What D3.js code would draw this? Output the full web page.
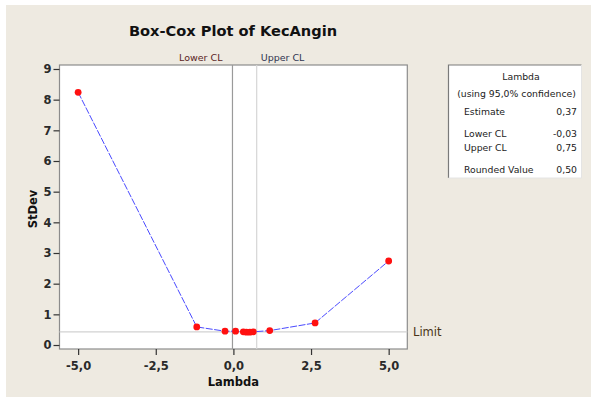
<!DOCTYPE html>
<html>
<head>
<meta charset="utf-8">
<script src="https://cdn.jsdelivr.net/npm/d3@7"></script>
<style>
  html, body { margin: 0; padding: 0; background: #ffffff; }
  svg { display: block; }
  text { font-family: "DejaVu Sans", sans-serif; }
</style>
</head>
<body>
<script>
// ---- Data ----
const lambdas = [-5, -1.18, -0.27, 0.07, 0.32, 0.42, 0.53, 0.64, 1.17, 2.63, 5];
const stdevs  = [8.24, 0.59, 0.45, 0.45, 0.43, 0.42, 0.42, 0.43, 0.47, 0.72, 2.74];
const xTicks = [-5, -2.5, 0, 2.5, 5];
const yTicks = [0, 1, 2, 3, 4, 5, 6, 7, 8, 9];
const lowerCL = -0.03, upperCL = 0.75, limit = 0.43;
const legendTitle = ["Lambda", "(using 95,0% confidence)"];
const legendLabels = ["Estimate", "Lower CL", "Upper CL", "Rounded Value"];
const legendValues = ["0,37", "-0,03", "0,75", "0,50"];
const titleText = "Box-Cox Plot of KecAngin";

const W = 591, H = 399;
const svg = d3.select("body").append("svg").attr("width", W).attr("height", H);

// background panel
svg.append("rect").attr("x", 6).attr("y", 5).attr("width", W - 6).attr("height", 392)
  .attr("fill", "#EEEAE1");

const plot = {left: 59.5, right: 407.3, top: 65, bottom: 349};
const x = d3.scaleLinear().domain([-5.6, 5.6]).range([plot.left, plot.right]);
const y = d3.scaleLinear().domain([-0.13, 9.13]).range([plot.bottom, plot.top]);

svg.append("rect").attr("x", plot.left).attr("y", plot.top)
  .attr("width", plot.right - plot.left).attr("height", plot.bottom - plot.top)
  .attr("fill", "#ffffff").attr("stroke", "#8c8c8c").attr("stroke-width", 1.2);

// reference lines
svg.append("line").attr("x1", plot.left).attr("x2", plot.right)
  .attr("y1", y(limit)).attr("y2", y(limit)).attr("stroke", "#d2d2d2").attr("stroke-width", 1.2);
svg.append("line").attr("x1", x(lowerCL)).attr("x2", x(lowerCL))
  .attr("y1", plot.top).attr("y2", plot.bottom).attr("stroke", "#9a9a9a").attr("stroke-width", 1.2);
svg.append("line").attr("x1", x(upperCL)).attr("x2", x(upperCL))
  .attr("y1", plot.top).attr("y2", plot.bottom).attr("stroke", "#d6d6d6").attr("stroke-width", 1.2);

// CL labels
svg.append("text").attr("x", x(lowerCL) - 10).attr("y", 61).attr("text-anchor", "end")
  .attr("font-size", "9.5px").attr("fill", "#5a2424").text("Lower CL");
svg.append("text").attr("x", x(upperCL) + 4).attr("y", 61).attr("text-anchor", "start")
  .attr("font-size", "9.5px").attr("fill", "#2e3450").text("Upper CL");
svg.append("text").attr("x", 413).attr("y", y(limit) + 4.5)
  .attr("font-size", "11.5px").attr("fill", "#4a3418").text("Limit");

// axes
const fmt = d => d3.format(".1f")(d).replace(".", ",").replace("−", "-");
const xAxis = svg.append("g").attr("transform", `translate(0,${plot.bottom})`)
  .call(d3.axisBottom(x).tickValues(xTicks).tickSize(6).tickSizeOuter(0).tickFormat(fmt));
const yAxis = svg.append("g").attr("transform", `translate(${plot.left},0)`)
  .call(d3.axisLeft(y).tickValues(yTicks).tickSize(6).tickSizeOuter(0).tickFormat(d3.format("d")));
[xAxis, yAxis].forEach(a => {
  a.select(".domain").remove();
  a.selectAll(".tick line").attr("stroke", "#333").attr("stroke-width", 1.2);
  a.selectAll(".tick text").attr("font-family", "DejaVu Sans, sans-serif")
    .attr("font-size", "11.5px").attr("font-weight", "bold").attr("fill", "#2a2a2a");
});
xAxis.selectAll(".tick text").attr("dy", "1.05em");
yAxis.selectAll(".tick text").attr("x", -8);

// axis titles
svg.append("text").attr("x", x(0)).attr("y", 386).attr("text-anchor", "middle")
  .attr("font-size", "11.5px").attr("font-weight", "bold").attr("fill", "#111").text("Lambda");
svg.append("text").attr("transform", `translate(37,${(plot.top + plot.bottom) / 2 + 2}) rotate(-90)`)
  .attr("text-anchor", "middle").attr("font-size", "11.5px").attr("font-weight", "bold")
  .attr("fill", "#111").text("StDev");

// title
svg.append("text").attr("x", 233).attr("y", 36).attr("text-anchor", "middle")
  .attr("font-size", "14.6px").attr("font-weight", "bold").attr("fill", "#111").text(titleText);

// line + points
const pts = lambdas.map((l, i) => [l, stdevs[i]]);
svg.append("path").datum(pts)
  .attr("d", d3.line().x(d => x(d[0])).y(d => y(d[1])))
  .attr("fill", "none").attr("stroke", "#4a4aff").attr("stroke-width", 1)
  .attr("stroke-dasharray", "7,1.5");
svg.selectAll("circle.pt").data(pts).join("circle").attr("class", "pt")
  .attr("cx", d => x(d[0])).attr("cy", d => y(d[1])).attr("r", 3.4).attr("fill", "#ff1010");

// legend box
const lg = svg.append("g");
lg.append("rect").attr("x", 448.5).attr("y", 65).attr("width", 133).attr("height", 113)
  .attr("fill", "#ffffff");
lg.append("path").attr("d", "M448.5,178 V65 H581.5").attr("fill", "none").attr("stroke", "#7a7a7a").attr("stroke-width", 1.2);
lg.append("path").attr("d", "M581.5,65 V178 H448.5").attr("fill", "none").attr("stroke", "#e4e4e4").attr("stroke-width", 1);
lg.append("text").attr("x", 521).attr("y", 79.5).attr("text-anchor", "middle")
  .attr("font-size", "9.3px").attr("fill", "#222").text(legendTitle[0]);
lg.append("text").attr("x", 516.5).attr("y", 96.5).attr("text-anchor", "middle")
  .attr("font-size", "9.3px").attr("fill", "#222").text(legendTitle[1]);
const rowY = [114.5, 136.5, 150.5, 172.5];
legendLabels.forEach((t, i) => {
  lg.append("text").attr("x", 464).attr("y", rowY[i]).attr("font-size", "9.3px").attr("fill", "#222").text(t);
  lg.append("text").attr("x", 577).attr("y", rowY[i]).attr("text-anchor", "end")
    .attr("font-size", "9.3px").attr("fill", "#222").text(legendValues[i]);
});
</script>
</body>
</html>
